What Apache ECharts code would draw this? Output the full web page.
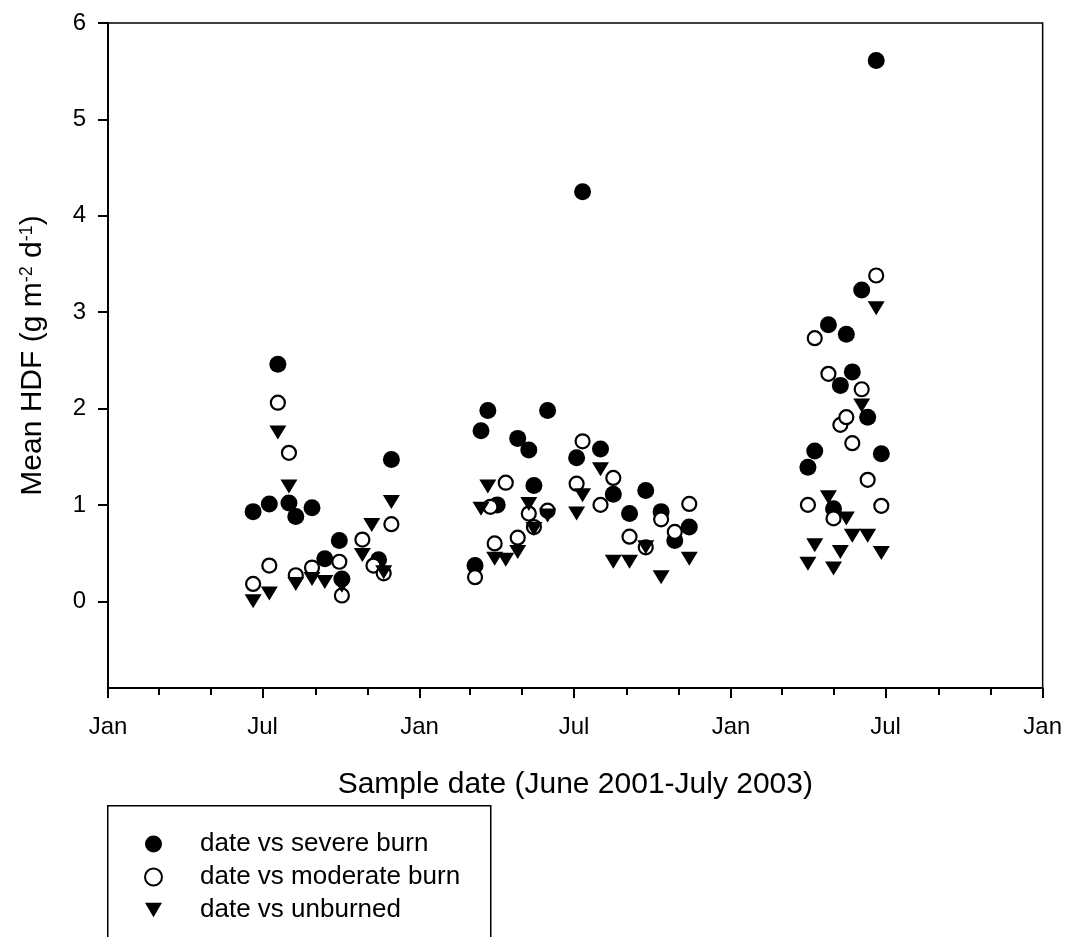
<!DOCTYPE html>
<html>
<head>
<meta charset="utf-8">
<script src="https://cdn.jsdelivr.net/npm/echarts@6/dist/echarts.min.js"></script>
<style>
  html, body { margin: 0; padding: 0; background: #fff; }
  #chart { width: 1065px; height: 937px; }
</style>
</head>
<body>
<div id="chart"></div>
<script>
// Mean HDF by sample date for three burn classes
const severeDates = [
  '2001-06-20','2001-07-09','2001-07-19','2001-08-01','2001-08-09','2001-08-28','2001-09-12',
  '2001-09-29','2001-10-02','2001-11-14','2001-11-29',
  '2002-03-07','2002-03-14','2002-03-22','2002-04-02','2002-04-26','2002-05-09','2002-05-15',
  '2002-05-31','2002-07-04','2002-07-11','2002-08-01','2002-08-16','2002-09-04','2002-09-23',
  '2002-10-11','2002-10-27','2002-11-13',
  '2003-04-01','2003-04-09','2003-04-25','2003-05-01','2003-05-09','2003-05-16','2003-05-23',
  '2003-06-03','2003-06-10','2003-06-20','2003-06-26'
];
const severeValues = [
  0.93, 1.01, 2.46, 1.02, 0.88, 0.97, 0.44,
  0.63, 0.23, 0.43, 1.47,
  0.37, 1.77, 1.98, 1.00, 1.69, 1.57, 1.20,
  1.98, 1.49, 4.25, 1.58, 1.11, 0.91, 1.15,
  0.93, 0.63, 0.77,
  1.39, 1.56, 2.87, 0.96, 2.24, 2.77, 2.38,
  3.23, 1.91, 5.61, 1.53
];

const moderateDates = [
  '2001-06-20','2001-07-09','2001-07-19','2001-08-01','2001-08-09','2001-08-28','2001-09-29',
  '2001-10-02','2001-10-26','2001-11-08','2001-11-20','2001-11-29',
  '2002-03-07','2002-03-25','2002-03-30','2002-04-12','2002-04-26','2002-05-09','2002-05-15',
  '2002-05-31','2002-07-04','2002-07-11','2002-08-01','2002-08-16','2002-09-04','2002-09-23',
  '2002-10-11','2002-10-27','2002-11-13',
  '2003-04-01','2003-04-09','2003-04-25','2003-05-01','2003-05-09','2003-05-16','2003-05-23',
  '2003-06-03','2003-06-10','2003-06-20','2003-06-26'
];
const moderateValues = [
  0.18, 0.37, 2.06, 1.54, 0.27, 0.35, 0.41,
  0.06, 0.64, 0.37, 0.29, 0.80,
  0.25, 0.98, 0.60, 1.23, 0.66, 0.91, 0.77,
  0.94, 1.22, 1.66, 1.00, 1.28, 0.67, 0.56,
  0.85, 0.72, 1.01,
  1.00, 2.73, 2.36, 0.86, 1.83, 1.91, 1.64,
  2.20, 1.26, 3.38, 0.99
];

const unburnedDates = [
  '2001-06-20','2001-07-09','2001-07-19','2001-08-01','2001-08-09','2001-08-28','2001-09-12',
  '2001-10-02','2001-10-26','2001-11-06','2001-11-20','2001-11-29',
  '2002-03-14','2002-03-22','2002-03-30','2002-04-12','2002-04-26','2002-05-09','2002-05-15',
  '2002-05-31','2002-07-04','2002-07-11','2002-08-01','2002-08-16','2002-09-04','2002-09-23',
  '2002-10-11','2002-11-13',
  '2003-04-01','2003-04-09','2003-04-25','2003-05-01','2003-05-09','2003-05-16','2003-05-23',
  '2003-06-03','2003-06-10','2003-06-20','2003-06-26'
];
const unburnedValues = [
  0.00, 0.08, 1.75, 1.19, 0.18, 0.23, 0.20,
  0.16, 0.48, 0.79, 0.30, 1.03,
  0.96, 1.19, 0.44, 0.43, 0.51, 1.01, 0.75,
  0.89, 0.91, 1.10, 1.37, 0.41, 0.41, 0.56,
  0.25, 0.44,
  0.39, 0.58, 1.08, 0.34, 0.51, 0.86, 0.68,
  2.03, 0.68, 3.04, 0.50
];

// Axis ticks
const majorTickDates = ['2001-01-01','2001-07-01','2002-01-01','2002-07-01','2003-01-01','2003-07-01','2004-01-01'];
const majorTickLabels = ['Jan','Jul','Jan','Jul','Jan','Jul','Jan'];
const minorTickDates = ['2001-03-01','2001-05-01','2001-09-01','2001-11-01',
                        '2002-03-01','2002-05-01','2002-09-01','2002-11-01',
                        '2003-03-01','2003-05-01','2003-09-01','2003-11-01'];
const yTickValues = [0, 1, 2, 3, 4, 5, 6];

const seriesNames = ['date vs severe burn', 'date vs moderate burn', 'date vs unburned'];

// Dates are placed on a numeric axis as millisecond timestamps (UTC)
function toTime(s) {
  const p = s.split('-').map(Number);
  return Date.UTC(p[0], p[1] - 1, p[2]);
}
function pairs(dates, values) {
  return dates.map((d, i) => [toTime(d), values[i]]);
}

const FONT = '"Liberation Sans", Arial, Helvetica, sans-serif';
const majorTimes = majorTickDates.map(toTime);
const minorTimes = minorTickDates.map(toTime);
const xMin = toTime('2001-01-01');
const xMax = toTime('2004-01-01');
const downTriangle = 'path://M0,0 L20,0 L10,17 Z';

const chart = echarts.init(document.getElementById('chart'), null, { renderer: 'canvas' });

chart.setOption({
  backgroundColor: '#ffffff',
  animation: false,
  textStyle: { fontFamily: FONT, color: '#000' },
  grid: {
    left: 108, right: 19, top: 23, bottom: 249,
    show: true, borderColor: '#000', borderWidth: 1.5, backgroundColor: 'transparent'
  },
  xAxis: [
    {
      type: 'value',
      min: xMin, max: xMax,
      name: 'Sample date (June 2001-July 2003)',
      nameLocation: 'middle',
      nameGap: 82,
      nameTextStyle: { fontSize: 30, fontFamily: FONT, color: '#000' },
      axisLine: { show: true, onZero: false, lineStyle: { color: '#000', width: 2 } },
      axisTick: { show: true, customValues: majorTimes, length: 10, lineStyle: { color: '#000', width: 2 } },
      axisLabel: {
        customValues: majorTimes,
        formatter: function (v) {
          const i = majorTimes.indexOf(v);
          return i >= 0 ? majorTickLabels[i] : '';
        },
        fontSize: 24, fontFamily: FONT, color: '#000', margin: 27
      },
      splitLine: { show: false }
    },
    {
      type: 'value',
      min: xMin, max: xMax,
      position: 'bottom',
      axisLine: { show: false, onZero: false },
      axisTick: { show: true, customValues: minorTimes, length: 7, lineStyle: { color: '#000', width: 2 } },
      axisLabel: { show: false },
      splitLine: { show: false }
    }
  ],
  yAxis: {
    type: 'value',
    min: -0.9, max: 6,
    name: 'Mean HDF (g m{sup|-2} d{sup|-1})',
    nameLocation: 'middle',
    nameGap: 60,
    nameRotate: 90,
    nameTextStyle: {
      fontSize: 30, fontFamily: FONT, color: '#000',
      rich: {
        sup: { fontSize: 18, fontFamily: FONT, color: '#000', verticalAlign: 'top', padding: [0, 0, 12, 0] }
      }
    },
    axisLine: { show: true, onZero: false, lineStyle: { color: '#000', width: 2 } },
    axisTick: { show: true, customValues: yTickValues, length: 10, lineStyle: { color: '#000', width: 2 } },
    axisLabel: {
      customValues: yTickValues,
      fontSize: 24, fontFamily: FONT, color: '#000', margin: 22
    },
    splitLine: { show: false }
  },
  // Legend frame, open at the bottom edge of the page
  graphic: [
    {
      type: 'rect',
      left: 107, top: 805,
      shape: { width: 383, height: 160 },
      style: { fill: '#fff', stroke: '#000', lineWidth: 1.5 },
      z: 0
    }
  ],
  legend: {
    orient: 'vertical',
    left: 107, top: 805,
    padding: [26, 30, 0, 37],
    itemGap: 7,
    itemWidth: 17, itemHeight: 17,
    z: 5,
    textStyle: { fontSize: 26, fontFamily: FONT, color: '#000', padding: [0, 0, 0, 33] },
    data: [
      { name: seriesNames[0], icon: 'circle' },
      { name: seriesNames[1], icon: 'circle', itemStyle: { color: '#fff', borderColor: '#000', borderWidth: 2 } },
      { name: seriesNames[2], icon: downTriangle }
    ]
  },
  series: [
    {
      name: seriesNames[0],
      type: 'scatter',
      symbol: 'circle',
      symbolSize: 17,
      itemStyle: { color: '#000', opacity: 1 },
      data: pairs(severeDates, severeValues)
    },
    {
      name: seriesNames[1],
      type: 'scatter',
      symbol: 'circle',
      symbolSize: 14,
      itemStyle: { color: '#fff', borderColor: '#000', borderWidth: 2.2, opacity: 1 },
      data: pairs(moderateDates, moderateValues)
    },
    {
      name: seriesNames[2],
      type: 'scatter',
      symbol: downTriangle,
      symbolSize: [17, 14],
      itemStyle: { color: '#000', opacity: 1 },
      data: pairs(unburnedDates, unburnedValues)
    }
  ]
});
</script>
</body>
</html>
